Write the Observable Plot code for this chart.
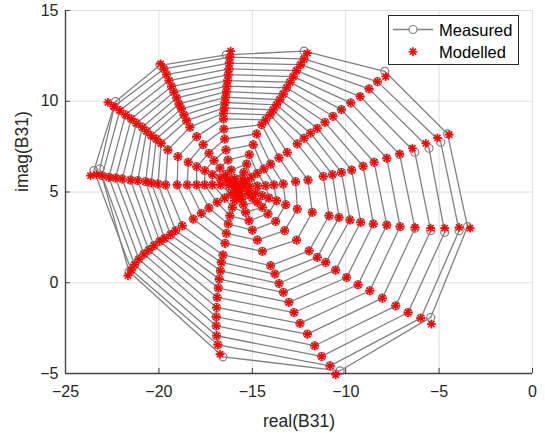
<!DOCTYPE html>
<html><head><meta charset="utf-8">
<script src="https://cdn.jsdelivr.net/npm/d3@7"></script>
<script src="https://cdn.jsdelivr.net/npm/@observablehq/plot@0.6"></script>
<style>
body{margin:0;background:#fff;}
#wrap{position:relative;width:545px;height:433px;font-family:"Liberation Sans",Arial,Helvetica,sans-serif;}
#legend{position:absolute;left:388px;top:15px;}
</style></head><body><div id="wrap"></div>
<script>
// spokes (outer end, clockwise from top); each spoke lists rings outer -> inner
const spokes = ["S1","S2","S3","S4","S5","S6","S7","S8","S9","S10","S11","S12"];
const xTicks = [-25,-20,-15,-10,-5,0];
const yTicks = [-5,0,5,10,15];

// Modelled values, real part
const modelledRe = [
 [-16.16,-16.20,-16.23,-16.25,-16.29,-16.32,-16.36,-16.39,-16.43,-16.46,-16.50,-16.54,-16.54,-16.52,-16.48,-16.41,-16.30,-16.13,-15.95,-15.80],
 [-12.05,-12.23,-12.41,-12.63,-12.80,-12.98,-13.16,-13.34,-13.52,-13.70,-13.88,-14.05,-14.29,-14.50,-14.77,-14.95,-15.16,-15.30,-15.45,-15.54],
 [-7.86,-8.30,-8.75,-9.23,-9.73,-10.23,-10.68,-11.11,-11.52,-11.88,-12.23,-12.59,-13.13,-13.57,-14.02,-14.38,-14.73,-15.05,-15.36,-15.54],
 [-4.46,-5.09,-5.71,-6.43,-7.11,-7.80,-8.48,-9.07,-9.68,-10.23,-10.71,-11.20,-12.02,-12.68,-13.34,-13.84,-14.29,-14.73,-15.13,-15.45],
 [-3.34,-3.93,-4.70,-5.45,-6.29,-7.09,-7.80,-8.52,-9.20,-9.77,-10.36,-10.89,-11.79,-12.59,-13.21,-13.70,-14.11,-14.46,-14.82,-15.18],
 [-5.41,-5.98,-6.66,-7.32,-8.04,-8.71,-9.34,-9.95,-10.54,-11.07,-11.52,-11.96,-12.63,-13.27,-13.75,-14.16,-14.46,-14.73,-15.00,-15.23],
 [-10.54,-10.84,-11.29,-11.66,-12.05,-12.45,-12.77,-13.04,-13.34,-13.57,-13.79,-14.02,-14.46,-14.73,-15.00,-15.18,-15.36,-15.48,-15.57,-15.63],
 [-16.73,-16.84,-16.91,-16.93,-16.93,-16.91,-16.88,-16.82,-16.77,-16.71,-16.66,-16.57,-16.46,-16.39,-16.29,-16.20,-16.07,-15.95,-15.84,-15.77],
 [-21.66,-21.48,-21.30,-21.07,-20.80,-20.54,-20.27,-19.96,-19.70,-19.38,-19.11,-18.75,-18.16,-17.73,-17.32,-16.88,-16.48,-16.16,-15.91,-15.71],
 [-23.66,-23.34,-23.04,-22.68,-22.32,-21.96,-21.52,-21.13,-20.71,-20.41,-20.05,-19.64,-19.02,-18.48,-17.98,-17.55,-17.14,-16.70,-16.25,-15.89],
 [-22.73,-22.41,-22.09,-21.79,-21.48,-21.20,-20.89,-20.66,-20.41,-20.14,-19.88,-19.52,-18.98,-18.43,-17.98,-17.55,-17.14,-16.73,-16.38,-16.07],
 [-19.91,-19.73,-19.59,-19.46,-19.32,-19.20,-19.05,-18.93,-18.80,-18.66,-18.52,-18.34,-17.98,-17.63,-17.32,-17.05,-16.73,-16.43,-16.16,-15.95]
];
// Modelled values, imaginary part
const modelledIm = [
 [12.76,12.43,12.10,11.78,11.47,11.14,10.83,10.53,10.22,9.93,9.63,9.34,9.03,8.47,7.92,7.32,6.76,6.21,5.75,5.44],
 [12.65,12.33,12.02,11.69,11.36,11.05,10.74,10.40,10.09,9.80,9.52,9.25,8.97,8.71,8.20,7.61,7.06,6.54,6.08,5.72],
 [11.36,11.08,10.68,10.26,9.91,9.54,9.17,8.84,8.51,8.24,7.96,7.65,7.18,6.88,6.54,6.27,6.03,5.81,5.59,5.44],
 [8.16,7.98,7.68,7.41,7.10,6.86,6.64,6.42,6.21,6.08,5.96,5.86,5.66,5.57,5.44,5.39,5.35,5.33,5.31,5.29],
 [3.01,3.05,3.01,3.01,3.05,3.09,3.18,3.24,3.33,3.46,3.60,3.69,3.88,4.06,4.30,4.52,4.67,4.80,4.94,5.07],
 [-2.28,-1.95,-1.64,-1.27,-0.85,-0.44,-0.11,0.29,0.70,1.12,1.40,1.76,2.35,2.87,3.38,3.79,4.15,4.43,4.67,4.89],
 [-5.07,-4.58,-4.06,-3.47,-2.83,-2.24,-1.64,-1.08,-0.53,-0.04,0.48,0.94,1.73,2.35,2.90,3.42,3.88,4.30,4.61,4.89],
 [-3.93,-3.42,-2.92,-2.37,-1.88,-1.36,-0.81,-0.29,0.20,0.66,1.12,1.53,2.17,2.72,3.24,3.69,4.15,4.52,4.80,5.07],
 [0.39,0.70,0.99,1.30,1.58,1.80,2.04,2.28,2.44,2.65,2.87,3.14,3.51,3.82,4.12,4.43,4.67,4.89,5.04,5.17],
 [5.90,5.96,5.90,5.81,5.77,5.72,5.66,5.63,5.57,5.50,5.44,5.39,5.39,5.39,5.39,5.39,5.39,5.39,5.35,5.31],
 [9.94,9.71,9.49,9.25,9.03,8.79,8.57,8.35,8.11,7.92,7.68,7.32,6.95,6.64,6.40,6.18,5.96,5.77,5.63,5.48],
 [12.06,11.78,11.47,11.14,10.81,10.50,10.18,9.85,9.58,9.25,8.93,8.57,8.05,7.61,7.13,6.73,6.32,5.96,5.66,5.44]
];
// Measured values, real part
const measuredRe = [
 [-16.39,-16.20,-16.23,-16.25,-16.29,-16.32,-16.36,-16.39,-16.43,-16.46,-16.50,-16.54,-16.54,-16.52,-16.48,-16.41,-16.30,-16.13,-15.95,-15.80],
 [-12.23,-12.23,-12.41,-12.63,-12.80,-12.98,-13.16,-13.34,-13.52,-13.70,-13.88,-14.05,-14.29,-14.50,-14.77,-14.95,-15.16,-15.30,-15.45,-15.54],
 [-7.91,-8.30,-8.75,-9.23,-9.73,-10.23,-10.68,-11.11,-11.52,-11.88,-12.23,-12.59,-13.13,-13.57,-14.02,-14.38,-14.73,-15.05,-15.36,-15.54],
 [-4.55,-4.91,-5.54,-6.30,-7.11,-7.80,-8.48,-9.07,-9.68,-10.23,-10.71,-11.20,-12.02,-12.68,-13.34,-13.84,-14.29,-14.73,-15.13,-15.45],
 [-3.48,-3.93,-4.70,-5.45,-6.29,-7.09,-7.80,-8.52,-9.20,-9.77,-10.36,-10.89,-11.79,-12.59,-13.21,-13.70,-14.11,-14.46,-14.82,-15.18],
 [-5.45,-5.98,-6.66,-7.32,-8.04,-8.71,-9.34,-9.95,-10.54,-11.07,-11.52,-11.96,-12.63,-13.27,-13.75,-14.16,-14.46,-14.73,-15.00,-15.23],
 [-10.30,-10.84,-11.29,-11.66,-12.05,-12.45,-12.77,-13.04,-13.34,-13.57,-13.79,-14.02,-14.46,-14.73,-15.00,-15.18,-15.36,-15.48,-15.57,-15.63],
 [-16.57,-16.84,-16.91,-16.93,-16.93,-16.91,-16.88,-16.82,-16.77,-16.71,-16.66,-16.57,-16.46,-16.39,-16.29,-16.20,-16.07,-15.95,-15.84,-15.77],
 [-21.60,-21.48,-21.30,-21.07,-20.80,-20.54,-20.27,-19.96,-19.70,-19.38,-19.11,-18.75,-18.16,-17.73,-17.32,-16.88,-16.48,-16.16,-15.91,-15.71],
 [-23.16,-23.48,-23.04,-22.68,-22.32,-21.96,-21.52,-21.13,-20.71,-20.41,-20.05,-19.64,-19.02,-18.48,-17.98,-17.55,-17.14,-16.70,-16.25,-15.89],
 [-22.32,-22.41,-22.09,-21.79,-21.48,-21.20,-20.89,-20.66,-20.41,-20.14,-19.88,-19.52,-18.98,-18.43,-17.98,-17.55,-17.14,-16.73,-16.38,-16.07],
 [-19.95,-19.73,-19.59,-19.46,-19.32,-19.20,-19.05,-18.93,-18.80,-18.66,-18.52,-18.34,-17.98,-17.63,-17.32,-17.05,-16.73,-16.43,-16.16,-15.95]
];
// Measured values, imaginary part
const measuredIm = [
 [12.56,12.43,12.10,11.78,11.47,11.14,10.83,10.53,10.22,9.93,9.63,9.34,9.03,8.47,7.92,7.32,6.76,6.21,5.75,5.44],
 [12.76,12.33,12.02,11.69,11.36,11.05,10.74,10.40,10.09,9.80,9.52,9.25,8.97,8.71,8.20,7.61,7.06,6.54,6.08,5.72],
 [11.65,11.08,10.68,10.26,9.91,9.54,9.17,8.84,8.51,8.24,7.96,7.65,7.18,6.88,6.54,6.27,6.03,5.81,5.59,5.44],
 [8.20,7.74,7.41,7.19,7.06,6.86,6.64,6.42,6.21,6.08,5.96,5.86,5.66,5.57,5.44,5.39,5.35,5.33,5.31,5.29],
 [3.09,2.87,2.78,2.87,3.00,3.09,3.18,3.24,3.33,3.46,3.60,3.69,3.88,4.06,4.30,4.52,4.67,4.80,4.94,5.07],
 [-1.91,-1.95,-1.64,-1.27,-0.85,-0.44,-0.11,0.29,0.70,1.12,1.40,1.76,2.35,2.87,3.38,3.79,4.15,4.43,4.67,4.89],
 [-4.85,-4.58,-4.06,-3.47,-2.83,-2.24,-1.64,-1.08,-0.53,-0.04,0.48,0.94,1.73,2.35,2.90,3.42,3.88,4.30,4.61,4.89],
 [-4.08,-3.42,-2.92,-2.37,-1.88,-1.36,-0.81,-0.29,0.20,0.66,1.12,1.53,2.17,2.72,3.24,3.69,4.15,4.52,4.80,5.07],
 [0.62,0.70,0.99,1.30,1.58,1.80,2.04,2.28,2.44,2.65,2.87,3.14,3.51,3.82,4.12,4.43,4.67,4.89,5.04,5.17],
 [6.27,6.18,5.90,5.81,5.77,5.72,5.66,5.63,5.57,5.50,5.44,5.39,5.39,5.39,5.39,5.39,5.39,5.39,5.35,5.31],
 [9.98,9.71,9.49,9.25,9.03,8.79,8.57,8.35,8.11,7.92,7.68,7.32,6.95,6.64,6.40,6.18,5.96,5.77,5.63,5.48],
 [11.98,11.78,11.47,11.14,10.81,10.50,10.18,9.85,9.58,9.25,8.93,8.57,8.05,7.61,7.13,6.73,6.32,5.96,5.66,5.44]
];

const nRings = modelledRe[0].length;
const measured = [], modelled = [], ringPaths = [];
for (let r = 0; r < nRings; r++) {
  for (let s = 0; s <= spokes.length; s++) {
    const k = s % spokes.length;
    ringPaths.push({ring: r, re: measuredRe[k][r], im: measuredIm[k][r]});
  }
  for (let s = 0; s < spokes.length; s++) {
    measured.push({ring: r, spoke: spokes[s], re: measuredRe[s][r], im: measuredIm[s][r]});
    modelled.push({ring: r, spoke: spokes[s], re: modelledRe[s][r], im: modelledIm[s][r]});
  }
}

const asteriskMatlab = {
  draw(ctx, size) {
    const r = Math.sqrt(size / Math.PI);
    const d = r * Math.SQRT1_2;
    ctx.moveTo(0, -r); ctx.lineTo(0, r);
    ctx.moveTo(-r, 0); ctx.lineTo(r, 0);
    ctx.moveTo(-d, -d); ctx.lineTo(d, d);
    ctx.moveTo(-d, d); ctx.lineTo(d, -d);
  }
};

const grey = "#808080";
const axisCol = "#262626";

const chart = Plot.plot({
  width: 545, height: 433,
  marginLeft: 65, marginRight: 13, marginTop: 10, marginBottom: 60,
  style: {fontFamily: "'Liberation Sans', Arial, Helvetica, sans-serif", fontSize: "16px", color: axisCol, background: "#fff", overflow: "visible"},
  x: {domain: [-25, 0], label: null},
  y: {domain: [-5, 15], label: null},
  marks: [
    Plot.gridX(xTicks, {stroke: "#dedede", strokeOpacity: 1, strokeWidth: 1}),
    Plot.gridY(yTicks, {stroke: "#dedede", strokeOpacity: 1, strokeWidth: 1}),
    Plot.line(ringPaths, {x: "re", y: "im", z: "ring", stroke: grey, strokeWidth: 1.3, curve: "linear"}),
    Plot.dot(measured, {x: "re", y: "im", r: 4, stroke: grey, strokeWidth: 1.2, fill: "none"}),
    Plot.dot(modelled, {x: "re", y: "im", r: 4.4, symbol: asteriskMatlab, stroke: "#ff0000", strokeWidth: 1.6, fill: "none"}),
    Plot.ruleX([-25], {stroke: "#444", strokeWidth: 1.4}),
    Plot.ruleY([-5], {stroke: "#444", strokeWidth: 1.4}),
    Plot.axisX(xTicks, {tickSize: -5, text: null, stroke: "#444", label: null}),
    Plot.axisY(yTicks, {tickSize: -5, text: null, stroke: "#444", label: null}),
    Plot.axisX(xTicks, {tickSize: 0, tickPadding: 12, fontSize: 16, fill: axisCol, label: null}),
    Plot.axisY(yTicks, {tickSize: 0, tickPadding: 7, fontSize: 16, fill: axisCol, label: null}),
    Plot.text(["real(B31)"], {frameAnchor: "bottom", dy: 48, lineAnchor: "middle", fontSize: 17.5, fill: axisCol}),
    Plot.text(["imag(B31)"], {frameAnchor: "left", dx: -43, rotate: -90, lineAnchor: "middle", fontSize: 17.5, fill: axisCol})
  ]
});
document.getElementById("wrap").appendChild(chart);

// Legend (inside the axes, top-right)
const ns = "http://www.w3.org/2000/svg";
const leg = document.createElementNS(ns, "svg");
leg.setAttribute("id", "legend");
leg.setAttribute("width", 132); leg.setAttribute("height", 51);
const legendItems = ["Measured", "Modelled"];
leg.innerHTML = `
 <rect x="0.5" y="0.5" width="130" height="49" fill="#fff" stroke="${axisCol}" stroke-width="1"/>
 <line x1="5" x2="45" y1="14.5" y2="14.5" stroke="${grey}" stroke-width="1.3"/>
 <circle cx="25" cy="14.5" r="4" fill="#fff" stroke="${grey}" stroke-width="1.2"/>
 <text x="51" y="20.5" font-size="16.5" fill="#000" font-family="'Liberation Sans', Arial, sans-serif">${legendItems[0]}</text>
 <path d="M25,32.3V41.1M20.6,36.7H29.4M21.9,33.6L28.1,39.8M21.9,39.8L28.1,33.6" stroke="#ff0000" stroke-width="1.6" fill="none"/>
 <text x="51" y="42.5" font-size="16.5" fill="#000" font-family="'Liberation Sans', Arial, sans-serif">${legendItems[1]}</text>`;
document.getElementById("wrap").appendChild(leg);
</script>
</body></html>
